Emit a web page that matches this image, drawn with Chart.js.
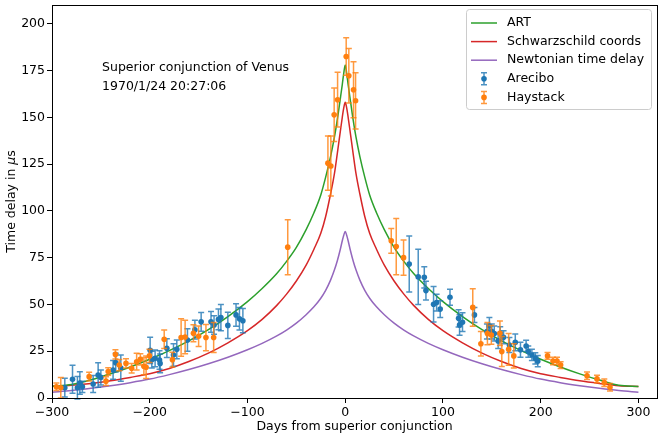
<!DOCTYPE html>
<html>
<head>
<meta charset="utf-8">
<script src="https://cdn.jsdelivr.net/npm/chart.js@4.4.1/dist/chart.umd.min.js"></script>
<style>
  html, body { margin: 0; padding: 0; background: #fff; }
  #chart { display: block; }
</style>
</head>
<body>
<canvas id="chart" width="664" height="440"></canvas>
<script>
// Tick labels
const xTicks = [-300, -200, -100, 0, 100, 200, 300];
const yTicks = [0, 25, 50, 75, 100, 125, 150, 175, 200];

// Model curves
const curveDays = [-300, -280, -260, -240, -220, -200, -180, -160, -140, -120, -100, -85, -70, -60, -50, -40, -32, -25, -20, -15, -11, -8, -5, -3, -1.5, 0,
  1.5, 3, 5, 8, 11, 15, 20, 25, 32, 40, 50, 60, 70, 85, 100, 120, 140, 160, 180, 200, 220, 240, 260, 280, 300];
const artDelay = [6.3, 7.2, 9.7, 13, 16.6, 20.7, 25.3, 30.5, 36.5, 43.5, 51.5, 58.5, 66.5, 73, 80.5, 90, 99, 108.5, 118, 129, 139.5, 149, 160, 167.5, 173.5, 178,
  173.5, 167.5, 160, 149, 139.5, 129, 118, 108.5, 99, 90, 80.5, 73, 66.5, 58.5, 51.5, 43.5, 36.5, 30.5, 25.3, 20.7, 16.6, 12.9, 9.6, 6.8, 6.2];
const schwarzDelay = [6.3, 6.8, 7.8, 9.2, 11, 13, 15.8, 19.5, 24, 29.5, 36, 42, 49.5, 55.5, 62.5, 71, 79.5, 88, 97, 109, 120, 131, 142.5, 150, 155, 158,
  155, 150, 142.5, 131, 120, 109, 97, 88, 79.5, 71, 62.5, 55.5, 49.5, 42, 36, 29.5, 24, 19.5, 15.8, 13, 11, 9.2, 7.8, 6.6, 6.2];
const newtonDelay = [3.1, 4, 5.2, 6.6, 8.2, 10.1, 12.5, 15.2, 18.3, 21.8, 25.8, 29.2, 33.2, 36.3, 40, 44.5, 48.7, 53.3, 57.5, 63, 68.5, 73.5, 79.5, 84, 87, 89,
  87, 84, 79.5, 73.5, 68.5, 63, 57.5, 53.3, 48.7, 44.5, 40, 36.3, 33.2, 29.2, 25.8, 21.8, 18.3, 15.2, 12.5, 10.1, 8.2, 6.6, 5.2, 4, 3.1];

// Arecibo measurements
const areciboDays = [-286.9, -279, -274, -271.5, -268.9, -257.9, -252.8, -250, -237.5, -234.8, -229.6, -199.6, -197.9, -194.5, -190, -189.4,
  -182.5, -175.7, -172.3, -161.4, -153.8, -147.4, -137.3, -134.2, -129.7, -127.2, -120.1, -111.7, -108.2, -104.7,
  65.5, 74.7, 80.9, 82.6, 90.4, 93.5, 97.2, 107.2, 116, 117, 120, 132.2, 145, 147.5, 150, 152.5, 156.5, 158.6, 162, 168,
  174, 179.3, 185.1, 187.3, 191, 194.5, 197];
const areciboDelay = [5.5, 10, 5.5, 8, 6, 7.5, 12.3, 11, 15, 18.9, 16, 25.5, 20.5, 21.2, 20.3, 18.5,
  26.6, 23, 26, 31, 36.5, 40.7, 40.7, 39, 42, 43, 38.8, 44.4, 42.3, 41.3,
  71.6, 64.7, 64.5, 57.4, 50.1, 51, 47.5, 53.8, 42.6, 39, 40.5, 44.4, 35.5, 38.5, 35.5, 34.5, 30.5, 34.6, 32.5, 28.3,
  29.7, 25.8, 27.8, 24.8, 23, 21.2, 19.7];
const areciboErr = [5, 7.5, 6, 6, 3, 4.5, 6.5, 4, 5, 5, 7, 7, 4.5, 4.5, 5, 5,
  5, 6, 5, 6, 5, 5, 5.5, 5, 5.5, 7, 7, 6, 6, 6.5,
  15, 14.8, 5.7, 5, 9.5, 4.5, 4.5, 4.3, 4.6, 5.5, 5, 4, 4, 4.5, 4, 4, 4, 3.5, 3.5, 4,
  4.5, 4, 3, 3, 3, 3, 3];

// Haystack measurements
const haystackDays = [-295.5, -291, -262, -244.8, -242.5, -235.1, -231.2, -224.3, -218.5, -213.4, -209.6, -206, -203.7, -200.3,
  -185.2, -176.8, -167.9, -163.8, -155.3, -150, -142.5, -134.6, -58.8,
  -17.7, -14.7, -11.3, -7.8, 1, 3.7, 8.5, 10.6,
  47.1, 52.2, 59.7, 130.5, 138.8, 145.5, 149.5, 158.3, 160.2, 167.2, 172.5,
  207, 212.6, 216.7, 220.4, 247.4, 257.6, 265.1, 270.9];
const haystackDelay = [6, 5.5, 11.4, 9, 14.1, 23.3, 17.6, 18.5, 15.9, 19.4, 20.7, 17, 16.4, 22.5,
  31.4, 20.5, 32.3, 32.6, 34.6, 33, 32.3, 32.3, 80.6,
  125.5, 124, 151.3, 159.4, 182.5, 172.2, 164.7, 158.8,
  84, 80.9, 75, 48.4, 29, 34.4, 33.7, 34.6, 24.8, 26, 22.5,
  22.5, 19.8, 19.8, 17.6, 11.9, 10.2, 8.2, 5.7];
const haystackErr = [2, 5.5, 2.3, 2.3, 2, 2.5, 3, 2.5, 2.5, 4.5, 3, 4.6, 6, 3.5,
  5, 4, 10, 9, 4.5, 5.5, 7, 8, 14.7,
  14.5, 16, 14.3, 14.6, 10, 14.6, 15, 15,
  6.6, 15, 9.4, 10, 6.5, 6, 5, 6.5, 8, 8.5, 6.5,
  1.8, 2, 2, 1.8, 2, 2, 2, 2];

const noteLines = ['Superior conjunction of Venus', '1970/1/24 20:27:06'];

const FONT = 'DejaVu Sans';
const zip = (xs, ys) => xs.map((x, i) => ({ x: x, y: ys[i] }));
const minus = v => String(v).replace('-', '\u2212');

// Error bars under each measurement set
const errorBars = {
  id: 'errorBars',
  beforeDatasetDraw(chart, args) {
    const ds = chart.data.datasets[args.index];
    if (!ds.errors) return;
    const { ctx, scales: { x, y } } = chart;
    ctx.save();
    ctx.strokeStyle = ds.barColor;
    ctx.lineWidth = 1.5;
    ds.data.forEach((p, i) => {
      const px = x.getPixelForValue(p.x);
      const top = y.getPixelForValue(p.y + ds.errors[i]);
      const bot = y.getPixelForValue(p.y - ds.errors[i]);
      ctx.beginPath();
      ctx.moveTo(px, top); ctx.lineTo(px, bot);
      ctx.moveTo(px - 3, top); ctx.lineTo(px + 3, top);
      ctx.moveTo(px - 3, bot); ctx.lineTo(px + 3, bot);
      ctx.stroke();
    });
    ctx.restore();
  }
};

// Frame, text note, y title and legend
const decorations = {
  id: 'decorations',
  afterDraw(chart) {
    const { ctx, chartArea: a, scales: { x, y } } = chart;
    ctx.save();

    ctx.strokeStyle = '#000';
    ctx.lineWidth = 1;
    ctx.strokeRect(Math.round(a.left) + 0.5, Math.round(a.top) + 0.5, Math.round(a.right - a.left), Math.round(a.bottom - a.top));

    ctx.fillStyle = '#000';
    ctx.font = '12.5px "' + FONT + '"';
    ctx.textBaseline = 'middle';
    ctx.textAlign = 'left';
    const nx = x.getPixelForValue(-248.8);
    noteLines.forEach((t, i) => ctx.fillText(t, nx, y.getPixelForValue(176.5) + i * 19));

    // y title with italic mu
    ctx.save();
    ctx.translate(12, (a.top + a.bottom) / 2);
    ctx.rotate(-Math.PI / 2);
    const parts = [['Time delay in ', ''], ['\u03bc', 'italic '], ['s', '']];
    let total = 0;
    parts.forEach(p => { ctx.font = p[1] + '12.5px "' + FONT + '"'; total += ctx.measureText(p[0]).width; });
    let cx = -total / 2;
    parts.forEach(p => {
      ctx.font = p[1] + '12.5px "' + FONT + '"';
      ctx.fillText(p[0], cx, 0);
      cx += ctx.measureText(p[0]).width;
    });
    ctx.restore();

    // legend
    const bx = 466.5, by = 9.5, bw = 185, bh = 100, r = 3;
    ctx.beginPath();
    ctx.moveTo(bx + r, by);
    ctx.arcTo(bx + bw, by, bx + bw, by + bh, r);
    ctx.arcTo(bx + bw, by + bh, bx, by + bh, r);
    ctx.arcTo(bx, by + bh, bx, by, r);
    ctx.arcTo(bx, by, bx + bw, by, r);
    ctx.closePath();
    ctx.fillStyle = 'rgba(255,255,255,0.8)';
    ctx.fill();
    ctx.strokeStyle = '#cccccc';
    ctx.stroke();

    ctx.font = '12.5px "' + FONT + '"';
    chart.data.datasets.forEach((ds, i) => {
      const ly = 23 + i * 18.6;
      if (ds.errors) {
        ctx.strokeStyle = ds.barColor;
        ctx.lineWidth = 1.5;
        ctx.beginPath();
        ctx.moveTo(484, ly - 6); ctx.lineTo(484, ly + 6);
        ctx.moveTo(481, ly - 6); ctx.lineTo(487, ly - 6);
        ctx.moveTo(481, ly + 6); ctx.lineTo(487, ly + 6);
        ctx.stroke();
        ctx.fillStyle = ds.backgroundColor;
        ctx.beginPath();
        ctx.arc(484, ly, 2.8, 0, Math.PI * 2);
        ctx.fill();
      } else {
        ctx.strokeStyle = ds.borderColor;
        ctx.lineWidth = 1.5;
        ctx.beginPath();
        ctx.moveTo(471, ly); ctx.lineTo(497, ly);
        ctx.stroke();
      }
      ctx.fillStyle = '#000';
      ctx.fillText(ds.label, 507, ly);
    });
    ctx.restore();
  }
};

const curve = (label, values, color, order) => ({
  label: label,
  data: zip(curveDays, values),
  borderColor: color,
  backgroundColor: color,
  borderWidth: 1.5,
  pointRadius: 0,
  cubicInterpolationMode: 'monotone',
  order: order
});

const measured = (label, days, delay, err, color, bar, order) => ({
  label: label,
  data: zip(days, delay),
  errors: err,
  barColor: bar,
  showLine: false,
  pointRadius: 2.8,
  pointBorderWidth: 0,
  backgroundColor: color,
  borderColor: color,
  order: order
});

new Chart(document.getElementById('chart'), {
  type: 'line',
  data: {
    datasets: [
      curve('ART', artDelay, '#2ca02c', 2),
      curve('Schwarzschild coords', schwarzDelay, '#d62728', 3),
      curve('Newtonian time delay', newtonDelay, '#9467bd', 4),
      measured('Arecibo', areciboDays, areciboDelay, areciboErr, '#1f77b4', 'rgba(31,119,180,0.8)', 1),
      measured('Haystack', haystackDays, haystackDelay, haystackErr, '#ff7f0e', 'rgba(255,127,14,0.8)', 0)
    ]
  },
  options: {
    responsive: false,
    animation: false,
    devicePixelRatio: 1,
    events: [],
    layout: { padding: { top: 5, right: 7, left: 0, bottom: 0 } },
    plugins: { legend: { display: false }, tooltip: { enabled: false } },
    scales: {
      x: {
        type: 'linear',
        min: -300,
        max: 319,
        afterBuildTicks: s => { s.ticks = xTicks.map(v => ({ value: v })); },
        afterFit: s => { s.height = 42; s.paddingLeft = 0; s.paddingRight = 0; },
        grid: { drawOnChartArea: false, tickLength: 5, tickColor: '#000' },
        border: { color: '#000' },
        ticks: { color: '#000', padding: 2, maxRotation: 0, font: { family: FONT, size: 12.5 }, callback: v => minus(v) },
        title: { display: true, text: 'Days from superior conjunction', color: '#000', padding: { top: 0, bottom: 5.5 }, font: { family: FONT, size: 12.5 } }
      },
      y: {
        min: 0,
        max: 210,
        afterBuildTicks: s => { s.ticks = yTicks.map(v => ({ value: v })); },
        afterFit: s => { s.width = 52; s.paddingTop = 0; s.paddingBottom = 0; },
        grid: { drawOnChartArea: false, tickLength: 5, tickColor: '#000' },
        border: { color: '#000' },
        ticks: { color: '#000', padding: 2, font: { family: FONT, size: 12.5 } }
      }
    }
  },
  plugins: [errorBars, decorations]
});
</script>
</body>
</html>
